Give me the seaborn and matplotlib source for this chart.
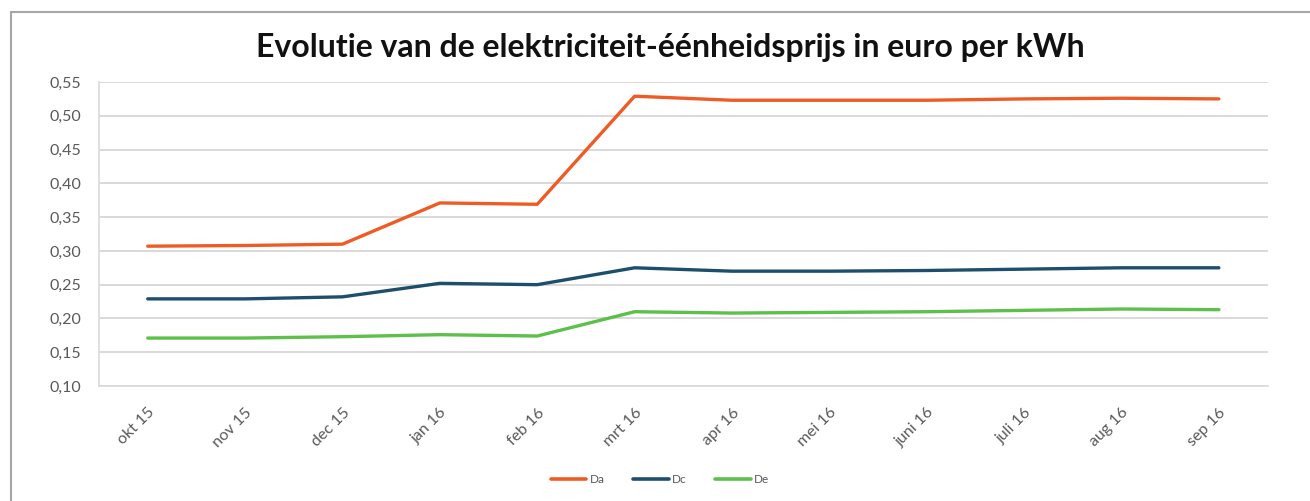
import matplotlib
matplotlib.use("Agg")
import matplotlib.pyplot as plt
import matplotlib.ticker as mticker
from matplotlib.lines import Line2D
import numpy as np
import pandas as pd
import seaborn as sns

# Data
months = ["okt 15", "nov 15", "dec 15", "jan 16", "feb 16", "mrt 16",
          "apr 16", "mei 16", "juni 16", "juli 16", "aug 16", "sep 16"]
da = [0.307, 0.308, 0.310, 0.371, 0.369, 0.529, 0.523, 0.523, 0.523, 0.525, 0.526, 0.525]
dc = [0.229, 0.229, 0.232, 0.252, 0.250, 0.275, 0.270, 0.270, 0.271, 0.273, 0.275, 0.275]
de = [0.171, 0.171, 0.173, 0.176, 0.174, 0.210, 0.208, 0.209, 0.210, 0.212, 0.214, 0.213]
series_names = ["Da", "Dc", "De"]
colors = {"Da": "#EF5B25", "Dc": "#1D4F6C", "De": "#5CC04A"}

df = pd.DataFrame({"maand": months, "Da": da, "Dc": dc, "De": de})
df["pos"] = np.arange(len(months))
long = df.melt(id_vars=["maand", "pos"], value_vars=series_names,
               var_name="reeks", value_name="prijs")

sns.set_theme(style="white")
plt.rcParams["font.family"] = ["Lato", "DejaVu Sans"]

fig = plt.figure(figsize=(13.1, 5.01), dpi=100)
ax = fig.add_axes([0.0756, 0.2295, 0.892, 0.6068])

sns.lineplot(data=long, x="pos", y="prijs", hue="reeks", palette=colors,
             hue_order=series_names, linewidth=2.4, ax=ax, legend=False)

ax.set_xlim(-0.5, len(months) - 0.5)
ax.set_ylim(0.10, 0.55)
ax.yaxis.set_major_locator(mticker.MultipleLocator(0.05))
ax.yaxis.set_major_formatter(mticker.FuncFormatter(lambda v, _: f"{v:.2f}".replace(".", ",")))
ax.grid(axis="y", color="#D9D9D9", linewidth=1.4)
ax.set_axisbelow(True)

ax.set_xticks(np.arange(len(months)))
ax.set_xticklabels(months, rotation=45, ha="right", rotation_mode="anchor")
ax.set_xticks(np.arange(len(months) + 1) - 0.5, minor=True)
ax.tick_params(axis="x", which="major", length=0, pad=14, labelsize=11.5, colors="#595959")
ax.tick_params(axis="x", which="minor", length=5, color="#D9D9D9", width=1.2, direction="out")
ax.tick_params(axis="y", length=5, color="#D9D9D9", width=1.2, labelsize=11.5,
               labelcolor="#595959", pad=8)
ax.set_xlabel("")
ax.set_ylabel("")

for side in ["top", "right"]:
    ax.spines[side].set_visible(False)
for side in ["left", "bottom"]:
    ax.spines[side].set_color("#D9D9D9")
    ax.spines[side].set_linewidth(1.2)

fig.text(0.512, 0.905, "Evolutie van de elektriciteit-éénheidsprijs in euro per kWh",
         ha="center", va="center", fontsize=23, fontweight="bold", color="#111111")

handles = [Line2D([0], [0], color=colors[n], linewidth=2.6) for n in series_names]
fig.legend(handles, series_names, loc="center", bbox_to_anchor=(0.504, 0.042), ncol=3,
           frameon=False, fontsize=8.5, handlelength=3.0, handletextpad=0.3,
           columnspacing=2.4, labelcolor="#595959")

# frame around the chart area (left and top edges visible)
fig.add_artist(Line2D([11 / 1310, 11 / 1310], [0, 1 - 12 / 501], transform=fig.transFigure,
                      color="#A6A6A6", linewidth=1.5))
fig.add_artist(Line2D([11 / 1310, 1], [1 - 12 / 501, 1 - 12 / 501], transform=fig.transFigure,
                      color="#A6A6A6", linewidth=1.5))

fig.savefig("out.png", dpi=100, facecolor="white")
